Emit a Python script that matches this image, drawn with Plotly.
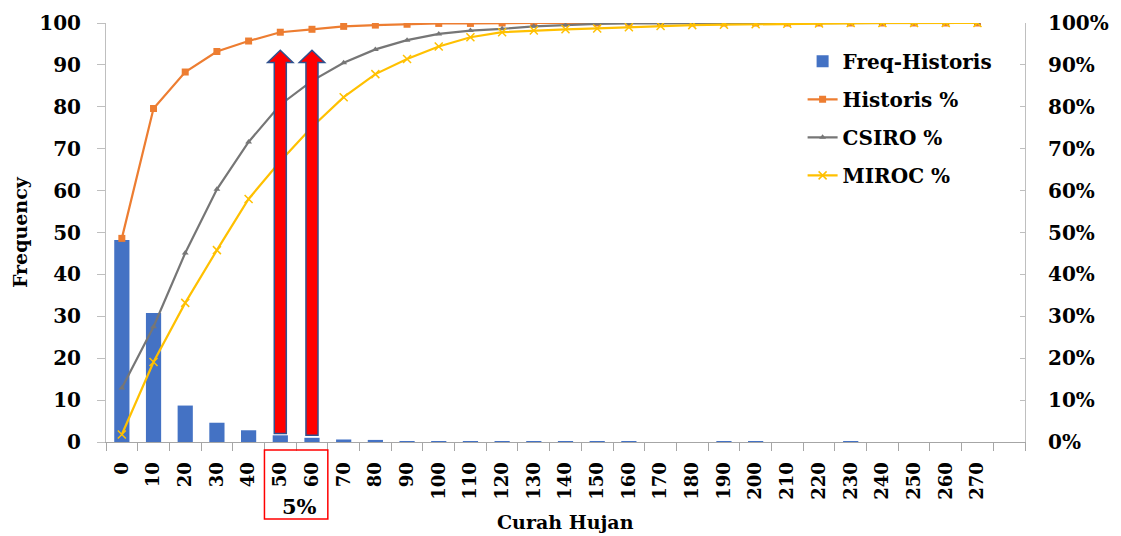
import plotly.graph_objects as go

categories = [str(v) for v in range(0, 280, 10)]
freq_historis = [48.2, 30.8, 8.7, 4.6, 2.8, 1.6, 1.0, 0.6, 0.5, 0.2, 0.2, 0.2, 0.2, 0.2, 0.2,
                 0.2, 0.2, 0.0, 0.0, 0.2, 0.2, 0.0, 0.0, 0.2, 0.0, 0.0, 0.0, 0.0]
historis_pct = [48.6, 79.6, 88.3, 93.2, 95.7, 97.8, 98.5, 99.2, 99.5, 99.7, 99.9, 99.9, 100, 100, 100,
                100, 100, 100, 100, 100, 100, 100, 100, 100, 100, 100, 100, 100]
csiro_pct = [12.9, 27.5, 45.1, 60.3, 71.6, 80.5, 86.2, 90.5, 93.7, 95.9, 97.4, 98.2, 98.6, 99.2, 99.5,
             99.8, 99.9, 99.9, 100, 100, 100, 100, 100, 100, 100, 100, 100, 100]
miroc_pct = [1.8, 19.1, 33.2, 45.8, 58.0, 67.0, 75.2, 82.3, 87.8, 91.4, 94.4, 96.6, 97.8, 98.2, 98.5,
             98.7, 99.0, 99.3, 99.5, 99.6, 99.7, 99.8, 99.9, 100, 100, 100, 100, 100]
left_ticks = list(range(0, 101, 10))
right_ticks = [v / 100 for v in range(0, 101, 10)]
arrow_cats = [5, 6]
arrow_base = [2.0, 1.6]
arrow_tip = [93.5, 93.5]

xs = list(range(len(categories)))
FONT = "DejaVu Serif"

fig = go.Figure()
fig.add_trace(go.Bar(x=xs, y=freq_historis, name="Freq-Historis", marker_color="#4472C4",
                     marker_line_width=0, width=0.48, yaxis="y", legendgroup="a"))
fig.add_trace(go.Scatter(x=xs, y=[v / 100 for v in historis_pct], name="Historis %", yaxis="y2",
                         mode="lines+markers", line=dict(color="#ED7D31", width=2.2), legendgroup="b",
                         marker=dict(symbol="square", size=7, color="#ED7D31")))
fig.add_trace(go.Scatter(x=xs, y=[v / 100 for v in csiro_pct], name="CSIRO %", yaxis="y2",
                         mode="lines+markers", line=dict(color="#767676", width=2.2), legendgroup="c",
                         marker=dict(symbol="triangle-up", size=6, color="#767676")))
fig.add_trace(go.Scatter(x=xs, y=[v / 100 for v in miroc_pct], name="MIROC %", yaxis="y2",
                         mode="lines+markers", line=dict(color="#FFC000", width=2.2), legendgroup="d",
                         marker=dict(symbol="x-thin", size=8, line=dict(color="#FFC000", width=1.5))))

# red arrows
shaft_hw = 0.19
head_hw = 0.4
head_h = 2.9
for cx, yb, yt in zip(arrow_cats, arrow_base, arrow_tip):
    yh = yt - head_h
    path = (f"M {cx - shaft_hw} {yb} L {cx - shaft_hw} {yh} L {cx - head_hw} {yh} L {cx} {yt} "
            f"L {cx + head_hw} {yh} L {cx + shaft_hw} {yh} L {cx + shaft_hw} {yb} Z")
    fig.add_shape(type="path", path=path, xref="x", yref="y", fillcolor="#FF0000",
                  line=dict(color="#2F528F", width=1.5), layer="above")

# red box around 50/60 labels
fig.add_shape(type="rect", xref="x", yref="paper", x0=4.5, x1=6.5, y0=-0.184, y1=-0.019,
              line=dict(color="#FF0000", width=1.5))
fig.add_annotation(text="<b>5%</b>", xref="x", yref="paper", x=5.6, y=-0.155, showarrow=False,
                   font=dict(family=FONT, size=21, color="black"), xanchor="center", yanchor="middle")

fig.add_annotation(text="<b>Curah Hujan</b>", xref="paper", yref="paper", x=0.5, y=-0.191,
                   showarrow=False, font=dict(family=FONT, size=19, color="black"),
                   xanchor="center", yanchor="middle")
fig.add_annotation(text="<b>Frequency</b>", xref="paper", yref="paper", x=-0.094, y=0.5,
                   textangle=-90, showarrow=False, font=dict(family=FONT, size=19, color="black"),
                   xanchor="center", yanchor="middle")

axis_line = "#BFBFBF"
fig.update_layout(
    width=1113, height=528,
    margin=dict(l=98, r=96, t=15, b=94, autoexpand=False),
    plot_bgcolor="white", paper_bgcolor="white",
    font=dict(family=FONT, size=19, color="black"),
    showlegend=True,
    legend=dict(x=0.758, y=0.955, xanchor="left", yanchor="top", bgcolor="rgba(0,0,0,0)",
                font=dict(family=FONT, size=20, color="black", weight="bold"),
                tracegroupgap=9, itemwidth=30),
    bargap=0.5,
    xaxis=dict(range=[-0.5, 28.5], tickmode="array", tickvals=xs, ticktext=categories,
               tickangle=-90, ticks="", showgrid=False, zeroline=False, automargin=False,
               showline=True, linecolor="#A6A6A6", linewidth=1, ticklabelstandoff=12,
               tickfont=dict(family=FONT, size=18, color="black", weight="bold"),
               minor=dict(ticks="outside", tick0=-0.5, dtick=1, ticklen=8, tickcolor="#A6A6A6",
                          showgrid=False)),
    yaxis=dict(range=[0, 100], tickmode="array", tickvals=left_ticks, showgrid=False,
               zeroline=False, showline=True, linecolor=axis_line, linewidth=1, automargin=False,
               ticks="outside", ticklen=8, tickcolor=axis_line, ticklabelstandoff=12,
               tickfont=dict(family=FONT, size=20, color="black", weight="bold")),
    yaxis2=dict(range=[0, 1], overlaying="y", side="right", tickmode="array",
                tickvals=right_ticks, tickformat=".0%", showgrid=False, zeroline=False,
                showline=True, linecolor=axis_line, linewidth=1, automargin=False,
                ticks="inside", ticklen=5, tickcolor=axis_line, ticklabelstandoff=18,
                tickfont=dict(family=FONT, size=20, color="black", weight="bold")),
)

fig.write_html("out.html")
